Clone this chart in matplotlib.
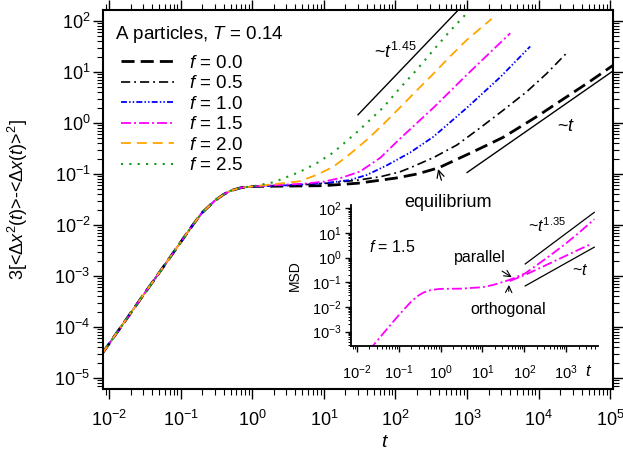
import matplotlib
matplotlib.use("Agg")
import matplotlib.pyplot as plt
from matplotlib.ticker import LogLocator, NullFormatter

plt.rcParams['font.family'] = ['Liberation Sans', 'DejaVu Sans']
plt.rcParams['mathtext.fontset'] = 'custom'
plt.rcParams['mathtext.rm'] = 'Liberation Sans'
plt.rcParams['mathtext.it'] = 'Liberation Sans:italic'
plt.rcParams['mathtext.bf'] = 'Liberation Sans:bold'

# short-time part shared by all curves
t_short = [0.008, 0.015, 0.03, 0.06, 0.1, 0.15, 0.2, 0.3, 0.4, 0.5, 0.7, 1.0]
msd_short = [3.0e-5, 1.05e-4, 4.2e-4, 1.65e-3, 4.6e-3, 1.03e-2, 1.75e-2, 3.0e-2, 4.0e-2, 4.7e-2, 5.4e-2, 5.7e-2]

f_labels = ["0.0", "0.5", "1.0", "1.5", "2.0", "2.5"]

t_f00 = [3, 10, 30, 100, 200, 400, 1000, 1800, 3200, 5600, 1e4, 2e4, 5e4, 1.2e5]
msd_f00 = [0.058, 0.059, 0.066, 0.083, 0.100, 0.132, 0.24, 0.355, 0.525, 0.85, 1.41, 2.69, 6.3, 14.8]
t_f05 = [3, 10, 30, 63, 115, 160, 340, 720, 1500, 3200, 6800, 12900, 24500]
msd_f05 = [0.059, 0.065, 0.076, 0.089, 0.11, 0.132, 0.21, 0.37, 0.79, 1.78, 4.1, 9.3, 23.4]
t_f10 = [3, 10, 23, 40, 76, 115, 160, 340, 1000, 2900, 7600]
msd_f10 = [0.060, 0.066, 0.076, 0.096, 0.148, 0.204, 0.263, 0.54, 2.0, 7.9, 31.6]
t_f15 = [3, 5.6, 10, 18, 32, 62, 115, 340, 1000, 4000]
msd_f15 = [0.062, 0.065, 0.071, 0.085, 0.112, 0.21, 0.49, 2.0, 8.9, 57.5]
t_f20 = [2, 4.6, 7.9, 13.5, 23, 40, 68, 115, 200, 340, 575, 1000, 2200]
msd_f20 = [0.063, 0.072, 0.096, 0.138, 0.245, 0.47, 0.95, 2.0, 4.4, 9.3, 20, 43, 110]
t_f25 = [2, 4.6, 7.9, 13.5, 30, 68, 115, 200, 340, 575, 1100]
msd_f25 = [0.069, 0.11, 0.162, 0.263, 0.69, 2.04, 4.8, 11.2, 27, 63, 166]

# guide lines
t_pow145 = [30, 760]
msd_pow145 = [1.45, 166]
t_lin = [1000, 1.2e5]
msd_lin = [0.107, 11.5]

# inset, f = 1.5
t_in = [0.02, 0.05, 0.1, 0.2, 0.3, 0.4, 0.6, 1, 3, 10, 18, 32]
msd_in = [1.8e-4, 1.15e-3, 4.6e-3, 0.0166, 0.0295, 0.039, 0.049, 0.054, 0.055, 0.063, 0.078, 0.105]
t_par = [45, 105, 200, 410, 1000, 2000, 4680]
msd_par = [0.126, 0.229, 0.50, 1.2, 3.8, 10, 35.5]
t_orth = [45, 105, 200, 410, 1000, 2000, 4070]
msd_orth = [0.112, 0.2, 0.33, 0.59, 1.2, 2.09, 3.63]
t_in135 = [105, 4680]
msd_in135 = [0.55, 67.6]
t_in1 = [105, 4680]
msd_in1 = [0.071, 2.63]

series = [
    (t_f00, msd_f00, 'black', 2.0, (0, (4.7, 2.2))),
    (t_f05, msd_f05, 'black', 1.2, (0, (5.5, 2.4, 1.1, 2.4))),
    (t_f10, msd_f10, '#0000ff', 1.3, (0, (3.3, 1.2, 0.8, 1.2, 0.8, 1.2))),
    (t_f15, msd_f15, '#ff00ff', 1.3, (0, (5.5, 1.7, 1.1, 1.7))),
    (t_f20, msd_f20, '#ffa500', 1.3, (0, (5.5, 3.3))),
    (t_f25, msd_f25, '#1a9a1a', 1.5, (0, (1, 3.0))),
]

fig = plt.figure(figsize=(6.23, 4.51), dpi=100)
ax = fig.add_axes([103 / 623, 62 / 451, 510 / 623, 379 / 451])

for (t, m, c, lw, ls), lab in zip(series, f_labels):
    ax.plot(t_short + t, msd_short + m, color=c, lw=lw, linestyle=ls, label=f"$f$ = {lab}")

ax.plot(t_pow145, msd_pow145, color='black', lw=1)
ax.plot(t_lin, msd_lin, color='black', lw=1)

ax.set_xscale('log')
ax.set_yscale('log')
ax.set_xlim(0.00824, 1.09e5)
ax.set_ylim(6.1e-6, 164)
ax.xaxis.set_major_locator(LogLocator(base=10, numticks=20))
ax.yaxis.set_major_locator(LogLocator(base=10, numticks=20))
ax.xaxis.set_minor_locator(LogLocator(base=10, subs=range(2, 10), numticks=20))
ax.yaxis.set_minor_locator(LogLocator(base=10, subs=range(2, 10), numticks=20))
ax.xaxis.set_minor_formatter(NullFormatter())
ax.yaxis.set_minor_formatter(NullFormatter())
ax.tick_params(which='both', direction='out', top=True, right=True, labelsize=13)
ax.tick_params(which='major', length=7, width=1)
ax.tick_params(which='minor', length=4, width=0.8)
ax.tick_params(axis='x', pad=8)
ax.tick_params(axis='y', pad=2)
for s in ax.spines.values():
    s.set_linewidth(1.5)

ax.set_xlabel("$t$", fontsize=14)
ax.xaxis.set_label_coords((385 - 103) / 510, -0.12)
ax.set_ylabel(r"3[<$\Delta x^2(t)$>-<$\Delta x(t)$>$^2$]", fontsize=13)
ax.yaxis.set_label_coords(-0.143, 0.5)

ax.text(0.024, 0.935, "A particles, $T$ = 0.14", transform=ax.transAxes,
        fontsize=13.5, ha='left', va='center')
ax.legend(loc='upper left', bbox_to_anchor=(0.036, 0.882), frameon=False,
          fontsize=13.5, handlelength=2.8, handletextpad=0.8, labelspacing=0.18,
          borderpad=0, borderaxespad=0)

ax.text(98, 25, "~$t^{1.45}$", fontsize=13, ha='center', va='center')
ax.text(2.4e4, 0.87, "~$t$", fontsize=13, ha='center', va='center')
ax.annotate("equilibrium", xy=(394, 0.125), xytext=(540, 0.028), fontsize=13,
            ha='center', va='center',
            arrowprops=dict(arrowstyle='->', color='black', lw=0.9, shrinkA=8, shrinkB=0))

# inset
ins = fig.add_axes([351 / 623, 105 / 451, 247 / 623, 141 / 451])
ins.patch.set_alpha(0)
ins.plot(t_in + t_par, msd_in + msd_par, color='#ff00ff', lw=1.3, linestyle=(0, (5.5, 1.7, 1.1, 1.7)))
ins.plot(t_orth, msd_orth, color='#ff00ff', lw=1.3, linestyle=(0, (5.5, 1.7, 1.1, 1.7)))
ins.plot(t_in135, msd_in135, color='black', lw=0.9)
ins.plot(t_in1, msd_in1, color='black', lw=0.9)
ins.set_xscale('log')
ins.set_yscale('log')
ins.set_xlim(0.0073, 5740)
ins.set_ylim(2.63e-4, 134)
ins.xaxis.set_major_locator(LogLocator(base=10, numticks=20))
ins.yaxis.set_major_locator(LogLocator(base=10, numticks=20))
ins.xaxis.set_minor_locator(LogLocator(base=10, subs=range(2, 10), numticks=20))
ins.yaxis.set_minor_locator(LogLocator(base=10, subs=range(2, 10), numticks=20))
ins.xaxis.set_minor_formatter(NullFormatter())
ins.yaxis.set_minor_formatter(NullFormatter())
ins.spines['top'].set_visible(False)
ins.spines['right'].set_visible(False)
for s in ['left', 'bottom']:
    ins.spines[s].set_linewidth(1.3)
ins.tick_params(which='both', direction='out', labelsize=10.5)
ins.tick_params(which='major', length=4.5, width=1)
ins.tick_params(which='minor', length=2.5, width=0.7)
ins.tick_params(axis='x', pad=8)
ins.tick_params(axis='y', pad=2)
ins.set_ylabel("MSD", fontsize=10)
ins.yaxis.set_label_coords(-0.2, 0.5)
ins.text(0.96, -0.18, "$t$", transform=ins.transAxes, fontsize=12, ha='center', va='center')

ins.text(0.07, 2.7, "$f$ = 1.5", fontsize=11.5, ha='center', va='center')
ins.text(350, 19, "~$t^{1.35}$", fontsize=11.5, ha='center', va='center')
ins.text(2140, 0.29, "~$t$", fontsize=11.5, ha='center', va='center')
ins.annotate("parallel", xy=(50, 0.16), xytext=(8.8, 1.05), fontsize=11.5,
             ha='center', va='center',
             arrowprops=dict(arrowstyle='->', color='black', lw=0.8, shrinkA=5, shrinkB=0))
ins.annotate("orthogonal", xy=(43, 0.078), xytext=(41, 0.0076), fontsize=11.5,
             ha='center', va='center',
             arrowprops=dict(arrowstyle='->', color='black', lw=0.8, shrinkA=6, shrinkB=0))

fig.savefig("out.png", dpi=100)
